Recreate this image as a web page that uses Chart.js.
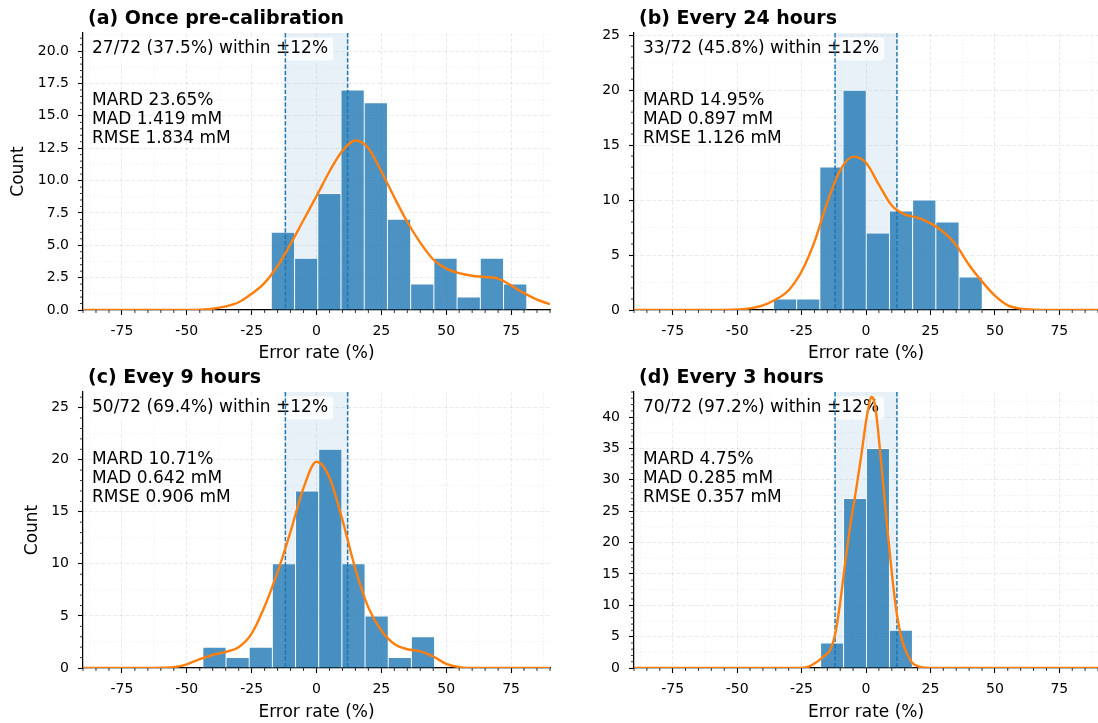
<!DOCTYPE html>
<html lang="en">
<head>
<meta charset="UTF-8">
<title>Error rate distributions</title>
<script src="https://cdn.jsdelivr.net/npm/chart.js"></script>
<style>
  html, body { margin: 0; padding: 0; background: #fff; }
  #wrap { position: relative; width: 1098px; height: 723px; overflow: hidden; }
  canvas { position: absolute; }
</style>
</head>
<body>
<div id="wrap">
  <canvas id="pa" width="555" height="366" style="left:0;top:0"></canvas>
  <canvas id="pb" width="543" height="366" style="left:555px;top:0"></canvas>
  <canvas id="pc" width="555" height="363" style="left:0;top:360px"></canvas>
  <canvas id="pd" width="543" height="363" style="left:555px;top:360px"></canvas>
</div>
<script>
// tolerance band (+/- %)
const TOL = 12;
const xTicks = [-75, -50, -25, 0, 25, 50, 75];

// (a) once pre-calibration
const binsA = [-12.93, -3.98, 4.97, 13.92, 22.87, 31.82, 40.77, 49.72, 58.67, 67.62, 76.57];
const countsA = [6, 4, 9, 17, 16, 7, 2, 4, 1, 4, 2];
const kdeXA = [-90, -80, -70, -60, -50, -45, -40, -35, -30, -25, -20, -15, -10, -5, 0, 5, 10, 15, 20, 25, 30, 35, 40, 45, 50, 55, 60, 65, 70, 75, 80, 85, 90];
const kdeYA = [0, 0, 0, 0, 0.01, 0.03, 0.1, 0.28, 0.6, 1.25, 2.1, 3.4, 5.1, 6.95, 8.8, 10.7, 12.3, 13.1, 12.5, 10.7, 8.7, 6.8, 5.2, 3.9, 3.2, 2.85, 2.65, 2.55, 2.42, 1.9, 1.3, 0.8, 0.45];
const yTicksA = [0, 2.5, 5, 7.5, 10, 12.5, 15, 17.5, 20];
const withinA = '27/72 (37.5%) within ±12%';
const statsA = ['MARD 23.65%', 'MAD 1.419 mM', 'RMSE 1.834 mM'];

// (b) every 24 hours
const binsB = [-31.4, -22.4, -13.4, -4.4, 4.6, 13.6, 22.6, 31.6, 40.6];
const countsB = [1, 1, 13, 20, 7, 9, 10, 8, 3];
const kdeXB = [-90, -80, -70, -60, -55, -50, -45, -40, -35, -30, -25, -20, -15, -10, -5, 0, 5, 10, 15, 20, 25, 30, 35, 40, 45, 50, 55, 60, 65, 70, 80, 90];
const kdeYB = [0, 0, 0, 0, 0.01, 0.05, 0.15, 0.42, 0.95, 1.8, 3.5, 6.2, 9.8, 12.7, 13.95, 13.4, 11.4, 9.5, 8.7, 8.4, 7.9, 7.1, 5.9, 4.1, 2.6, 1.3, 0.42, 0.12, 0.03, 0, 0, 0];
const yTicksB = [0, 5, 10, 15, 20, 25];
const withinB = '33/72 (45.8%) within ±12%';
const statsB = ['MARD 14.95%', 'MAD 0.897 mM', 'RMSE 1.126 mM'];

// (c) every 9 hours
const binsC = [-39.33, -30.4, -21.47, -12.54, -3.61, 5.32, 14.25, 23.18, 32.11, 41.04];
const countsC = [2, 1, 2, 10, 17, 21, 10, 5, 1, 3];
const kdeXC = [-90, -80, -70, -65, -60, -55, -50, -45, -40, -35, -30, -25, -20, -15, -10, -5, 0, 5, 10, 15, 20, 25, 30, 35, 40, 45, 50, 55, 60, 65, 70, 80, 90];
const kdeYC = [0, 0, 0, 0, 0.02, 0.08, 0.35, 0.85, 1.25, 1.55, 2.0, 3.3, 5.9, 9.2, 13.1, 17.3, 19.8, 18.3, 14.2, 9.5, 5.8, 3.6, 2.3, 1.8, 1.6, 1.1, 0.4, 0.08, 0.01, 0, 0, 0, 0];
const yTicksC = [0, 5, 10, 15, 20, 25];
const withinC = '50/72 (69.4%) within ±12%';
const statsC = ['MARD 10.71%', 'MAD 0.642 mM', 'RMSE 0.906 mM'];

// (d) every 3 hours
const binsD = [-13.15, -4.25, 4.65, 13.55];
const countsD = [4, 27, 35, 6];
const kdeXD = [-90, -60, -30, -25, -22, -20, -18, -16, -14, -12, -10, -8, -6, -4, -2, 0, 1, 2, 3, 4, 6, 8, 10, 12, 14, 16, 18, 20, 22, 25, 30, 60, 90];
const kdeYD = [0, 0, 0, 0.02, 0.25, 0.7, 1.3, 2.0, 2.8, 5.3, 10.5, 17, 23, 28, 33.4, 39.3, 41.6, 43.2, 42.8, 40.4, 32.3, 23.4, 15.2, 8.5, 4.4, 2.2, 0.8, 0.3, 0.08, 0, 0, 0, 0];
const yTicksD = [0, 5, 10, 15, 20, 25, 30, 35, 40];
const withinD = '70/72 (97.2%) within ±12%';
const statsD = ['MARD 4.75%', 'MAD 0.285 mM', 'RMSE 0.357 mM'];

Chart.defaults.font.family = '"DejaVu Sans", sans-serif';
Chart.defaults.color = '#000';

function steps(from, to, step) {
  const out = [];
  for (let v = from; v <= to + 1e-9; v += step) out.push(+v.toFixed(4));
  return out;
}

function seg(ctx, x1, y1, x2, y2) {
  ctx.beginPath(); ctx.moveTo(x1, y1); ctx.lineTo(x2, y2); ctx.stroke();
}

const decor = {
  id: 'decor',
  beforeDatasetsDraw(chart, args, o) {
    const { ctx, chartArea: a, scales: { x, y } } = chart;
    ctx.save();
    // faint minor grid between the major lines
    ctx.strokeStyle = 'rgba(0,0,0,0.07)';
    ctx.lineWidth = 0.8;
    ctx.setLineDash([1.5, 2]);
    steps(-87.5, 90, 12.5).filter(v => !xTicks.includes(v)).forEach(v => {
      const px = x.getPixelForValue(v); seg(ctx, px, a.top, px, a.bottom);
    });
    const ys = o.yTicks[1] - o.yTicks[0];
    steps(ys / 2, o.yMax, ys).forEach(v => {
      const py = y.getPixelForValue(v); seg(ctx, a.left, py, a.right, py);
    });
    ctx.setLineDash([]);
    // +/- tolerance band
    const l = x.getPixelForValue(-TOL), r = x.getPixelForValue(TOL);
    ctx.fillStyle = 'rgba(31,119,180,0.1)';
    ctx.fillRect(l, a.top, r - l, a.bottom - a.top);
    // minor ticks
    ctx.strokeStyle = '#000';
    ctx.lineWidth = 0.8;
    steps(-90, 90, 5).filter(v => !xTicks.includes(v)).forEach(v => {
      const px = x.getPixelForValue(v); seg(ctx, px, a.bottom, px, a.bottom + 3);
    });
    steps(0, o.yMax, o.yMinor).filter(v => !o.yTicks.some(t => Math.abs(t - v) < 1e-6)).forEach(v => {
      const py = y.getPixelForValue(v); seg(ctx, a.left - 3, py, a.left, py);
    });
    // annotation texts
    ctx.font = '17px "DejaVu Sans"';
    ctx.textBaseline = 'middle';
    const tx = a.left + 9, ty = a.top + 16;
    const w = ctx.measureText(o.within).width;
    ctx.fillStyle = 'rgba(255,255,255,0.8)';
    ctx.beginPath();
    ctx.roundRect(tx - 5, ty - 11.5, w + 10, 23, 3);
    ctx.fill();
    ctx.fillStyle = '#000';
    ctx.fillText(o.within, tx, ty);
    o.stats.forEach((s, i) => ctx.fillText(s, tx, a.top + 68 + i * 19));
    ctx.restore();
  },
  afterDatasetDraw(chart, args) {
    if (args.index !== 0) return;
    const { ctx, chartArea: a, scales: { x } } = chart;
    ctx.save();
    ctx.strokeStyle = '#1f77b4';
    ctx.lineWidth = 1.5;
    ctx.setLineDash([4.4, 1.9]);
    [-TOL, TOL].forEach(v => {
      const px = x.getPixelForValue(v); seg(ctx, px, a.top, px, a.bottom);
    });
    ctx.restore();
  },
  afterDraw(chart, args, o) {
    const { ctx, chartArea: a } = chart;
    ctx.save();
    ctx.font = 'bold 19px "DejaVu Sans"';
    ctx.fillStyle = '#000';
    ctx.textBaseline = 'alphabetic';
    ctx.fillText(o.title, a.left + 5, a.top - 9);
    ctx.restore();
  }
};

function makePanel(id, p) {
  new Chart(document.getElementById(id), {
    type: 'bar',
    data: {
      datasets: [
        {
          data: p.bins.map((b, i) => ({ x: b, y: p.counts[i] })),
          backgroundColor: 'rgba(31,119,180,0.8)',
          borderColor: 'rgba(255,255,255,0.9)',
          borderWidth: 0.8,
          barPercentage: 1,
          categoryPercentage: 1,
          order: 1
        },
        {
          type: 'line',
          data: p.kdeX.map((v, i) => ({ x: v, y: p.kdeY[i] })),
          borderColor: '#ff7f0e',
          borderWidth: 2.4,
          pointRadius: 0,
          fill: false,
          cubicInterpolationMode: 'monotone',
          order: 0
        }
      ]
    },
    options: {
      responsive: false,
      animation: false,
      events: [],
      layout: { padding: { top: p.padTop, right: p.padRight, left: 0, bottom: 0 } },
      plugins: {
        legend: { display: false },
        tooltip: { enabled: false },
        decor: p
      },
      scales: {
        x: {
          type: 'linear',
          min: -90, max: 90,
          offset: false,
          afterBuildTicks: s => { s.ticks = xTicks.map(v => ({ value: v })); },
          afterFit: s => { s.height = p.xHeight; },
          ticks: { font: { size: 14 }, color: '#000', padding: 8, maxRotation: 0 },
          grid: { offset: false, color: 'rgba(0,0,0,0.1)', lineWidth: 0.8, tickColor: '#000', tickLength: 5, tickWidth: 1.1 },
          border: { color: '#000', width: 1.25, dash: [4, 2] },
          title: { display: true, text: 'Error rate (%)', font: { size: 17 }, color: '#000', padding: { top: 0, bottom: p.xTitlePad } }
        },
        y: {
          type: 'linear',
          min: 0, max: p.yMax,
          afterBuildTicks: s => { s.ticks = p.yTicks.map(v => ({ value: v })); },
          afterFit: s => { s.width = p.yWidth; },
          ticks: { font: { size: 14 }, color: '#000', padding: 9, callback: v => v.toFixed(p.yDec) },
          grid: { color: 'rgba(0,0,0,0.1)', lineWidth: 0.8, tickColor: '#000', tickLength: 5, tickWidth: 1.1 },
          border: { color: '#000', width: 1.25, dash: [4, 2] },
          title: { display: p.yLabel, text: 'Count', font: { size: 17 }, color: '#000', padding: { top: p.yTitlePad, bottom: 0 } }
        }
      }
    },
    plugins: [decor]
  });
}

makePanel('pa', { title: '(a) Once pre-calibration', bins: binsA, counts: countsA, kdeX: kdeXA, kdeY: kdeYA,
  yMax: 21.4, yTicks: yTicksA, yMinor: 0.5, yDec: 1, within: withinA, stats: statsA, yLabel: true,
  padTop: 33, padRight: 5, yWidth: 83, xHeight: 56, xTitlePad: 2, yTitlePad: 8 });
makePanel('pb', { title: '(b) Every 24 hours', bins: binsB, counts: countsB, kdeX: kdeXB, kdeY: kdeYB,
  yMax: 25.2, yTicks: yTicksB, yMinor: 1, yDec: 0, within: withinB, stats: statsB, yLabel: false,
  padTop: 33, padRight: 0, yWidth: 79, xHeight: 56, xTitlePad: 2, yTitlePad: 0 });
makePanel('pc', { title: '(c) Evey 9 hours', bins: binsC, counts: countsC, kdeX: kdeXC, kdeY: kdeYC,
  yMax: 26.5, yTicks: yTicksC, yMinor: 1, yDec: 0, within: withinC, stats: statsC, yLabel: true,
  padTop: 32, padRight: 5, yWidth: 83, xHeight: 55, xTitlePad: 0, yTitlePad: 22 });
makePanel('pd', { title: '(d) Every 3 hours', bins: binsD, counts: countsD, kdeX: kdeXD, kdeY: kdeYD,
  yMax: 44, yTicks: yTicksD, yMinor: 1, yDec: 0, within: withinD, stats: statsD, yLabel: false,
  padTop: 32, padRight: 0, yWidth: 79, xHeight: 55, xTitlePad: 0, yTitlePad: 0 });
</script>
</body>
</html>
